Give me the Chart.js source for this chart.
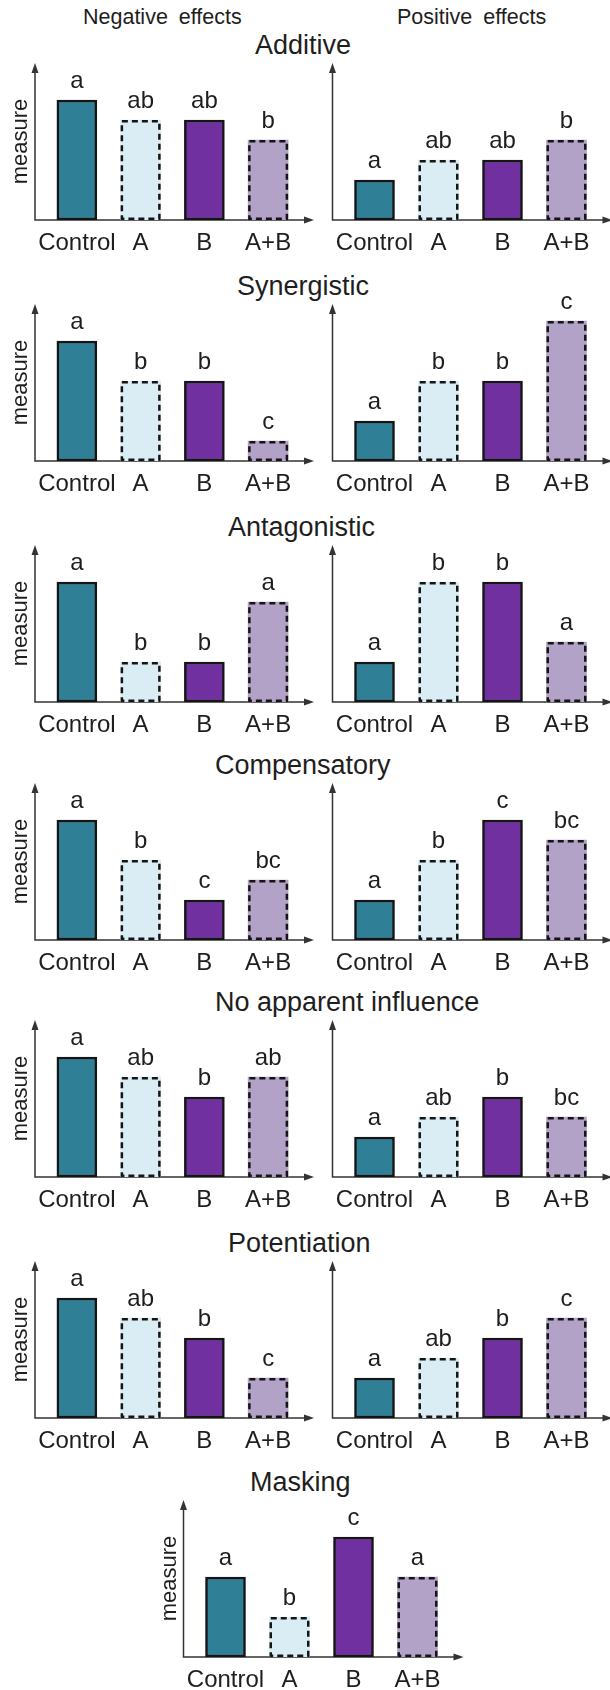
<!DOCTYPE html>
<html>
<head>
<meta charset="utf-8">
<script src="https://cdn.jsdelivr.net/npm/chart.js@4.4.1/dist/chart.umd.min.js"></script>
<style>
  html, body { margin: 0; padding: 0; background: #ffffff; }
  body { width: 610px; height: 1690px; position: relative; overflow: hidden;
         font-family: "Liberation Sans", Arial, sans-serif; color: #1e1e1e; }
  .hdr { position: absolute; font-size: 21.5px; line-height: 21px; white-space: nowrap; word-spacing: 5px; }
  .ttl { position: absolute; font-size: 27px; line-height: 27px; white-space: nowrap; }
  canvas { position: absolute; }
</style>
</head>
<body>
<script>
// ---- data ----
const categories = ['Control', 'A', 'B', 'A+B'];
const effectTypes = ['Additive', 'Synergistic', 'Antagonistic', 'Compensatory',
                     'No apparent influence', 'Potentiation', 'Masking'];
const columnHeaders = ['Negative effects', 'Positive effects'];

const additiveNeg       = [6, 5, 5, 4];
const additiveNegSig    = ['a', 'ab', 'ab', 'b'];
const additivePos       = [2, 3, 3, 4];
const additivePosSig    = ['a', 'ab', 'ab', 'b'];

const synergisticNeg    = [6, 4, 4, 1];
const synergisticNegSig = ['a', 'b', 'b', 'c'];
const synergisticPos    = [2, 4, 4, 7];
const synergisticPosSig = ['a', 'b', 'b', 'c'];

const antagonisticNeg    = [6, 2, 2, 5];
const antagonisticNegSig = ['a', 'b', 'b', 'a'];
const antagonisticPos    = [2, 6, 6, 3];
const antagonisticPosSig = ['a', 'b', 'b', 'a'];

const compensatoryNeg    = [6, 4, 2, 3];
const compensatoryNegSig = ['a', 'b', 'c', 'bc'];
const compensatoryPos    = [2, 4, 6, 5];
const compensatoryPosSig = ['a', 'b', 'c', 'bc'];

const noInfluenceNeg    = [6, 5, 4, 5];
const noInfluenceNegSig = ['a', 'ab', 'b', 'ab'];
const noInfluencePos    = [2, 3, 4, 3];
const noInfluencePosSig = ['a', 'ab', 'b', 'bc'];

const potentiationNeg    = [6, 5, 4, 2];
const potentiationNegSig = ['a', 'ab', 'b', 'c'];
const potentiationPos    = [2, 3, 4, 5];
const potentiationPosSig = ['a', 'ab', 'b', 'c'];

const masking    = [4, 2, 6, 4];
const maskingSig = ['a', 'b', 'c', 'a'];

// ---- styling / layout ----
const FONT = '"Liberation Sans", Arial, sans-serif';
const TEXT = '#1e1e1e';
const AXIS = '#333333';
const barFill = ['#2f7f97', '#daedf4', '#7030a0', '#b3a2c7'];
const dashedBar = [false, true, false, true];
const Y_MAX = 7.85;

const rowBase = [220, 461, 702, 940, 1177, 1418, 1657];   // x-axis line of each row
const titleLeft = [255, 237, 228, 215, 215, 228, 250];
const column = {
  left:  { x: 0,   w: 320, padL: 45,   padR: 20 },
  right: { x: 300, w: 310, padL: 42.5, padR: 11.5 },
  mid:   { x: 150, w: 320, padL: 43.5, padR: 20.5 }
};
const CANVAS_ABOVE = 185, CANVAS_H = 240;
const TICK_FONT = 24, TICK_PAD = 9;
// x scale height = line height + 2 * padding; the rest of the space below the axis is padding
const PAD_BOTTOM = CANVAS_H - CANVAS_ABOVE - (TICK_FONT * 1.2 + 2 * TICK_PAD);

// axes with arrow heads, y-axis caption, dashed outlines and significance letters
const panelDecor = {
  id: 'panelDecor',
  beforeDatasetsDraw(chart, args, opts) {
    const { ctx, chartArea: a } = chart;
    const ax = a.left - 10, tipX = a.right + 14;
    ctx.save();
    ctx.strokeStyle = AXIS; ctx.fillStyle = AXIS; ctx.lineWidth = 1.5;
    ctx.beginPath();
    ctx.moveTo(ax, a.top + 8); ctx.lineTo(ax, a.bottom); ctx.lineTo(tipX - 8, a.bottom);
    ctx.stroke();
    ctx.beginPath();
    ctx.moveTo(ax, a.top); ctx.lineTo(ax - 3.5, a.top + 10); ctx.lineTo(ax + 3.5, a.top + 10);
    ctx.closePath(); ctx.fill();
    ctx.beginPath();
    ctx.moveTo(tipX, a.bottom); ctx.lineTo(tipX - 10, a.bottom - 3.5); ctx.lineTo(tipX - 10, a.bottom + 3.5);
    ctx.closePath(); ctx.fill();
    if (opts.yTitle) {
      ctx.translate(ax - 8, (a.top + a.bottom) / 2);
      ctx.rotate(-Math.PI / 2);
      ctx.fillStyle = TEXT;
      ctx.font = '22px ' + FONT;
      ctx.textAlign = 'center';
      ctx.textBaseline = 'alphabetic';
      ctx.fillText(opts.yTitle, 0, 0);
    }
    ctx.restore();
  },
  afterDatasetsDraw(chart, args, opts) {
    const { ctx } = chart;
    const meta = chart.getDatasetMeta(0);
    ctx.save();
    meta.data.forEach((bar, i) => {
      const p = bar.getProps(['x', 'y', 'base', 'width'], true);
      if (dashedBar[i]) {
        const lw = 2.5;
        ctx.setLineDash([6, 4]);
        ctx.lineWidth = lw;
        ctx.strokeStyle = '#151515';
        ctx.strokeRect(p.x - p.width / 2 + lw / 2, p.y + lw / 2, p.width - lw, p.base - p.y - lw);
        ctx.setLineDash([]);
      }
      ctx.fillStyle = TEXT;
      ctx.font = '24px ' + FONT;
      ctx.textAlign = 'center';
      ctx.textBaseline = 'alphabetic';
      ctx.fillText(opts.letters[i], p.x, p.y - 12);
    });
    ctx.restore();
  }
};

function addText(cls, text, left, top) {
  const d = document.createElement('div');
  d.className = cls;
  d.textContent = text;
  d.style.left = left + 'px';
  d.style.top = top + 'px';
  document.body.appendChild(d);
}

function addPanel(row, col, values, letters, yTitle) {
  const c = column[col];
  const cv = document.createElement('canvas');
  cv.width = c.w; cv.height = CANVAS_H;
  cv.style.left = c.x + 'px';
  cv.style.top = (rowBase[row] - CANVAS_ABOVE) + 'px';
  document.body.appendChild(cv);
  new Chart(cv, {
    type: 'bar',
    data: {
      labels: categories,
      datasets: [{
        data: values,
        backgroundColor: barFill,
        borderColor: '#151515',
        borderWidth: dashedBar.map(d => d ? 0 : 2.5),
        borderSkipped: false,
        barThickness: 40
      }]
    },
    options: {
      responsive: false,
      animation: false,
      devicePixelRatio: 1,
      layout: { padding: { left: c.padL, right: c.padR, top: 28, bottom: PAD_BOTTOM } },
      plugins: {
        legend: { display: false },
        tooltip: { enabled: false },
        panelDecor: { letters: letters, yTitle: yTitle }
      },
      scales: {
        x: {
          offset: true,
          grid: { display: false, drawTicks: false },
          border: { display: false },
          ticks: { color: TEXT, font: { family: FONT, size: TICK_FONT }, padding: TICK_PAD,
                   maxRotation: 0, autoSkip: false }
        },
        y: { display: false, min: 0, max: Y_MAX }
      }
    },
    plugins: [panelDecor]
  });
}

// headers and row titles
addText('hdr', columnHeaders[0], 83, 7);
addText('hdr', columnHeaders[1], 397, 7);
effectTypes.forEach((t, r) => addText('ttl', t, titleLeft[r], rowBase[r] - 188));

const rows = [
  [additiveNeg, additiveNegSig, additivePos, additivePosSig],
  [synergisticNeg, synergisticNegSig, synergisticPos, synergisticPosSig],
  [antagonisticNeg, antagonisticNegSig, antagonisticPos, antagonisticPosSig],
  [compensatoryNeg, compensatoryNegSig, compensatoryPos, compensatoryPosSig],
  [noInfluenceNeg, noInfluenceNegSig, noInfluencePos, noInfluencePosSig],
  [potentiationNeg, potentiationNegSig, potentiationPos, potentiationPosSig]
];
rows.forEach((r, i) => {
  addPanel(i, 'left', r[0], r[1], 'measure');
  addPanel(i, 'right', r[2], r[3], null);
});
addPanel(6, 'mid', masking, maskingSig, 'measure');
</script>
</body>
</html>
